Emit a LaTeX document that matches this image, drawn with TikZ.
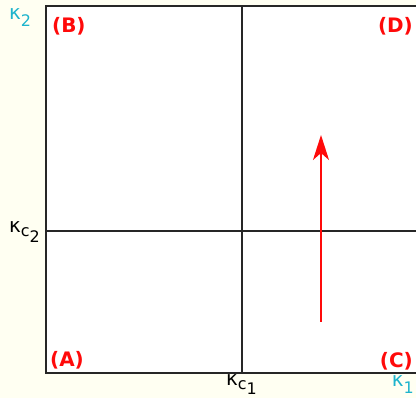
\documentclass[tikz,border=0pt]{standalone}
\usepackage{fontspec}
\setmainfont{DejaVu Sans}
\usetikzlibrary{arrows.meta}

\definecolor{cream}{RGB}{255,255,242}
\definecolor{kcyan}{RGB}{30,180,205}
\definecolor{lblred}{RGB}{255,10,10}
\newcommand{\lowr}[2][0.42em]{\raisebox{-#1}{#2}}
\newcommand{\kap}{\scalebox{1.25}{κ}}

\begin{document}
\begin{tikzpicture}[
  x=1bp, y=1bp,
  axlbl/.style={font=\fontsize{16}{16}\selectfont, inner sep=0pt},
  quad/.style={font=\fontsize{20}{20}\selectfont\bfseries, text=lblred, inner sep=0pt},
  gridline/.style={line width=1.2bp, black!85},
  >={Stealth[length=25bp, width=16bp, inset=7bp]}
]
  % background and plot area
  \fill[cream] (0,0) rectangle (416,398);
  \useasboundingbox (0,0) rectangle (416,398);
  \coordinate (tl) at (46,392);
  \coordinate (bl) at (46,25);
  \coordinate (br) at (416,25);
  \coordinate (tr) at (416,392);
  \fill[white] (bl) rectangle (tr);
  \draw[gridline] (tr) -- (tl) -- (bl) -- (br);

  % critical values
  \coordinate (c1b) at (242,25);
  \coordinate (c1t) at (242,392);
  \coordinate (c2l) at (46,167);
  \coordinate (c2r) at (416,167);
  \draw[gridline] (c1b) -- (c1t);
  \draw[gridline] (c2l) -- (c2r);

  % axis labels
  \node[axlbl, text=kcyan, anchor=base west] (k2) at (9,378) {\kap\lowr[0.4em]{2}};
  \node[axlbl, text=kcyan, anchor=base east] (k1) at (414,11) {\kap\lowr[0.4em]{1}};
  \node[axlbl, anchor=base west] (kc2) at (9,165) {\kap\lowr[0.25em]{c\lowr[0.33em]{2}}};
  \node[axlbl, anchor=base west] (kc1) at (226,12) {\kap\lowr[0.25em]{c\lowr[0.3em]{1}}};

  % quadrants
  \node[quad, anchor=base west] (qb) at (52,366) {(B)};
  \node[quad, anchor=base east] (qd) at (413,366) {(D)};
  \node[quad, anchor=base west] (qa) at (50,32) {(A)};
  \node[quad, anchor=base east] (qc) at (413,31) {(C)};

  % path
  \coordinate (start) at (321,76);
  \coordinate (stop) at (321,263);
  \draw[->, lblred, line width=2bp] (start) -- (stop);
\end{tikzpicture}
\end{document}
